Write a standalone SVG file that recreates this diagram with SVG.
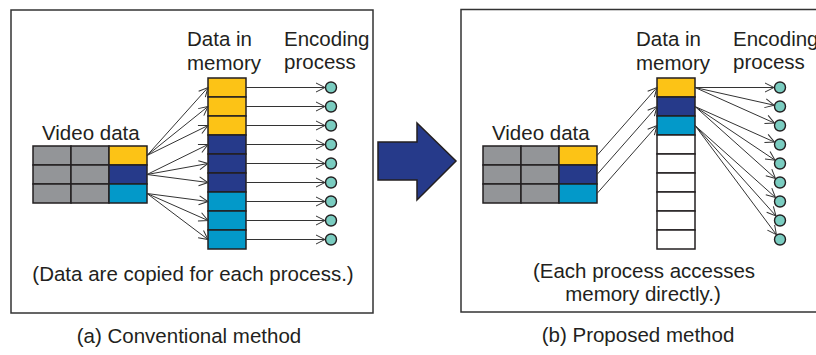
<svg xmlns="http://www.w3.org/2000/svg" width="816" height="355" viewBox="0 0 816 355">
  <style>
    .frame { fill: none; stroke: #333333; stroke-width: 1.5; }
    .cell { stroke: #231F20; stroke-width: 1.5; }
    .gray { fill: #939598; }
    .yel { fill: #FCC316; }
    .dblue { fill: #263A8A; }
    .lblue { fill: #0399C9; }
    .empty { fill: #FFFFFF; }
    .proc { fill: #7ACCC0; stroke: #231F20; stroke-width: 1.4; }
    .conn line { stroke: #333333; stroke-width: 1; marker-end: url(#open); }
    text { font-family: "Liberation Sans", Arial, sans-serif; font-size: 20.5px; fill: #231F20; }
    .mid { text-anchor: middle; }
  </style>
  <defs>
    <marker id="open" markerUnits="userSpaceOnUse" markerWidth="14" markerHeight="14" viewBox="-12 -7 14 14" refX="0" refY="0" orient="auto">
      <path d="M-9,-4.5 L0,0 L-9,4.5" fill="none" stroke="#333333" stroke-width="1"/>
    </marker>
  </defs>
  <rect width="816" height="355" fill="#FFFFFF"/>

  <!-- (a) conventional method -->
  <rect id="panel-a" class="frame" x="11" y="10" width="362" height="303"/>

  <g id="video-a">
    <rect class="cell gray" x="33" y="146" width="38" height="19"/>
    <rect class="cell gray" x="71" y="146" width="38" height="19"/>
    <rect class="cell yel" x="109" y="146" width="38" height="19"/>
    <rect class="cell gray" x="33" y="165" width="38" height="19"/>
    <rect class="cell gray" x="71" y="165" width="38" height="19"/>
    <rect class="cell dblue" x="109" y="165" width="38" height="19"/>
    <rect class="cell gray" x="33" y="184" width="38" height="19"/>
    <rect class="cell gray" x="71" y="184" width="38" height="19"/>
    <rect class="cell lblue" x="109" y="184" width="38" height="19"/>
    <text x="42" y="140">Video data</text>
  </g>

  <g id="memory-a">
    <rect class="cell yel" x="208" y="78" width="38" height="19"/>
    <rect class="cell yel" x="208" y="97" width="38" height="19"/>
    <rect class="cell yel" x="208" y="116" width="38" height="19"/>
    <rect class="cell dblue" x="208" y="135" width="38" height="19"/>
    <rect class="cell dblue" x="208" y="154" width="38" height="19"/>
    <rect class="cell dblue" x="208" y="173" width="38" height="19"/>
    <rect class="cell lblue" x="208" y="192" width="38" height="19"/>
    <rect class="cell lblue" x="208" y="211" width="38" height="19"/>
    <rect class="cell lblue" x="208" y="230" width="38" height="19"/>
    <text x="187" y="46">Data in</text>
    <text x="187" y="70">memory</text>
  </g>

  <g id="processes-a">
    <circle class="proc" cx="331" cy="87.5" r="5.5"/>
    <circle class="proc" cx="331" cy="106.5" r="5.5"/>
    <circle class="proc" cx="331" cy="125.5" r="5.5"/>
    <circle class="proc" cx="331" cy="144.5" r="5.5"/>
    <circle class="proc" cx="331" cy="163.5" r="5.5"/>
    <circle class="proc" cx="331" cy="182.5" r="5.5"/>
    <circle class="proc" cx="331" cy="201.5" r="5.5"/>
    <circle class="proc" cx="331" cy="220.5" r="5.5"/>
    <circle class="proc" cx="331" cy="239.5" r="5.5"/>
    <text x="284" y="46">Encoding</text>
    <text x="284" y="69">process</text>
  </g>

  <g id="connectors-a" class="conn">
    <line x1="147" y1="155.5" x2="208" y2="87.5"/>
    <line x1="147" y1="155.5" x2="208" y2="106.5"/>
    <line x1="147" y1="155.5" x2="208" y2="125.5"/>
    <line x1="147" y1="174.5" x2="208" y2="144.5"/>
    <line x1="147" y1="174.5" x2="208" y2="163.5"/>
    <line x1="147" y1="174.5" x2="208" y2="182.5"/>
    <line x1="147" y1="193.5" x2="208" y2="201.5"/>
    <line x1="147" y1="193.5" x2="208" y2="220.5"/>
    <line x1="147" y1="193.5" x2="208" y2="239.5"/>
    <line x1="246" y1="87.5" x2="325" y2="87.5"/>
    <line x1="246" y1="106.5" x2="325" y2="106.5"/>
    <line x1="246" y1="125.5" x2="325" y2="125.5"/>
    <line x1="246" y1="144.5" x2="325" y2="144.5"/>
    <line x1="246" y1="163.5" x2="325" y2="163.5"/>
    <line x1="246" y1="182.5" x2="325" y2="182.5"/>
    <line x1="246" y1="201.5" x2="325" y2="201.5"/>
    <line x1="246" y1="220.5" x2="325" y2="220.5"/>
    <line x1="246" y1="239.5" x2="325" y2="239.5"/>
  </g>

  <text class="mid" x="193" y="281">(Data are copied for each process.)</text>
  <text class="mid" x="189" y="343">(a) Conventional method</text>

  <!-- transition arrow -->
  <g id="transition">
    <polygon points="378,142 417,142 417,123 456,161 417,200 417,180 378,180" fill="#263A8A" stroke="#231F20" stroke-width="1.5" stroke-linejoin="miter"/>
  </g>

  <!-- (b) proposed method -->
  <rect id="panel-b" class="frame" x="461" y="9.5" width="370" height="302.5"/>

  <g id="video-b">
    <rect class="cell gray" x="483" y="146" width="38" height="19"/>
    <rect class="cell gray" x="521" y="146" width="38" height="19"/>
    <rect class="cell yel" x="559" y="146" width="38" height="19"/>
    <rect class="cell gray" x="483" y="165" width="38" height="19"/>
    <rect class="cell gray" x="521" y="165" width="38" height="19"/>
    <rect class="cell dblue" x="559" y="165" width="38" height="19"/>
    <rect class="cell gray" x="483" y="184" width="38" height="19"/>
    <rect class="cell gray" x="521" y="184" width="38" height="19"/>
    <rect class="cell lblue" x="559" y="184" width="38" height="19"/>
    <text x="492" y="140">Video data</text>
  </g>

  <g id="memory-b">
    <rect class="cell yel" x="657" y="78" width="38" height="19"/>
    <rect class="cell dblue" x="657" y="97" width="38" height="19"/>
    <rect class="cell lblue" x="657" y="116" width="38" height="19"/>
    <rect class="cell empty" x="657" y="135" width="38" height="19"/>
    <rect class="cell empty" x="657" y="154" width="38" height="19"/>
    <rect class="cell empty" x="657" y="173" width="38" height="19"/>
    <rect class="cell empty" x="657" y="192" width="38" height="19"/>
    <rect class="cell empty" x="657" y="211" width="38" height="19"/>
    <rect class="cell empty" x="657" y="230" width="38" height="19"/>
    <text x="636" y="46">Data in</text>
    <text x="636" y="70">memory</text>
  </g>

  <g id="processes-b">
    <circle class="proc" cx="780" cy="87.5" r="5.5"/>
    <circle class="proc" cx="780" cy="106.5" r="5.5"/>
    <circle class="proc" cx="780" cy="125.5" r="5.5"/>
    <circle class="proc" cx="780" cy="144.5" r="5.5"/>
    <circle class="proc" cx="780" cy="163.5" r="5.5"/>
    <circle class="proc" cx="780" cy="182.5" r="5.5"/>
    <circle class="proc" cx="780" cy="201.5" r="5.5"/>
    <circle class="proc" cx="780" cy="220.5" r="5.5"/>
    <circle class="proc" cx="780" cy="239.5" r="5.5"/>
    <text x="733" y="46">Encoding</text>
    <text x="733" y="69">process</text>
  </g>

  <g id="connectors-b" class="conn">
    <line x1="597" y1="155.5" x2="657" y2="87.5"/>
    <line x1="597" y1="174.5" x2="657" y2="106.5"/>
    <line x1="597" y1="193.5" x2="657" y2="125.5"/>
    <line x1="695" y1="87.5" x2="774" y2="87.5"/>
    <line x1="695" y1="87.5" x2="774.1" y2="105.2"/>
    <line x1="695" y1="87.5" x2="774.5" y2="123.1"/>
    <line x1="695" y1="106.5" x2="774.5" y2="142.1"/>
    <line x1="695" y1="106.5" x2="775" y2="160.2"/>
    <line x1="695" y1="106.5" x2="775.5" y2="178.5"/>
    <line x1="695" y1="125.5" x2="775.5" y2="197.5"/>
    <line x1="695" y1="125.5" x2="776" y2="216"/>
    <line x1="695" y1="125.5" x2="776.4" y2="234.7"/>
  </g>

  <text class="mid" x="644" y="278">(Each process accesses</text>
  <text class="mid" x="643" y="301">memory directly.)</text>
  <text class="mid" x="638" y="342">(b) Proposed method</text>
</svg>
